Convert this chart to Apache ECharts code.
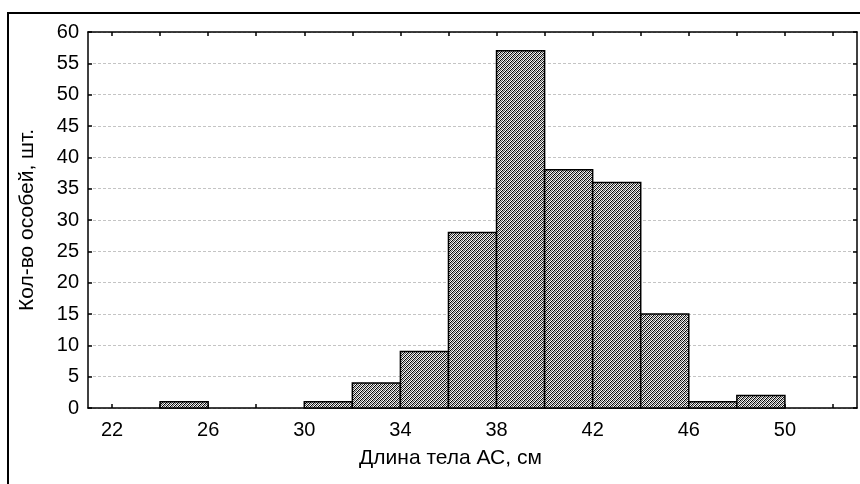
<!DOCTYPE html>
<html>
<head>
<meta charset="utf-8">
<script src="https://cdn.jsdelivr.net/npm/echarts@6/dist/echarts.min.js"></script>
<style>html,body{margin:0;padding:0;background:#fff}#c{width:860px;height:484px}</style>
</head>
<body>
<div id="c"></div>
<script>
// Data
var binStarts = [22, 24, 26, 28, 30, 32, 34, 36, 38, 40, 42, 44, 46, 48, 50];
var binWidth = 2;
var counts = [0, 1, 0, 0, 1, 4, 9, 28, 57, 38, 36, 15, 1, 2, 0];
var xTickValues = [22, 24, 26, 28, 30, 32, 34, 36, 38, 40, 42, 44, 46, 48, 50, 52];
var xLabelValues = [22, 26, 30, 34, 38, 42, 46, 50];
var xAxisName = 'Длина тела АС, см';
var yAxisName = 'Кол-во особей, шт.';

var FONT = '"Liberation Sans", Arial, sans-serif';

// hatch pattern
var tile = document.createElement('canvas');
tile.width = 4; tile.height = 4;
var tctx = tile.getContext('2d');
var shades = ['#000000', '#d0d0d0', '#555555', '#ffffff'];
for (var px = 0; px < 4; px++) {
  for (var py = 0; py < 4; py++) {
    tctx.fillStyle = shades[(px + py) % 4];
    tctx.fillRect(px, py, 1, 1);
  }
}

var data = binStarts.map(function (s, i) { return [s, s + binWidth, counts[i]]; });

var chart = echarts.init(document.getElementById('c'), null, {renderer: 'canvas'});
var tickStyle = {show: true, inside: true, length: 4, lineStyle: {color: '#000', width: 1.5}};
chart.setOption({
  animation: false,
  backgroundColor: '#fff',
  grid: {left: 88, top: 32, right: 3, bottom: 76},
  xAxis: [{
    type: 'value', min: 21, max: 53,
    name: xAxisName, nameLocation: 'middle', nameGap: 40,
    nameTextStyle: {fontFamily: FONT, fontSize: 21, color: '#000', padding: [0, 44, 0, 0]},
    axisLine: {show: true, onZero: false, lineStyle: {color: '#000', width: 1.5}},
    axisTick: Object.assign({customValues: xTickValues}, tickStyle),
    axisLabel: {customValues: xLabelValues, fontFamily: FONT, fontSize: 20, color: '#000', margin: 12},
    splitLine: {show: false}
  }, {
    type: 'value', min: 21, max: 53, position: 'top',
    axisLine: {show: true, onZero: false, lineStyle: {color: '#000', width: 1.5}},
    axisTick: Object.assign({customValues: xTickValues}, tickStyle),
    axisLabel: {show: false},
    splitLine: {show: false}
  }],
  yAxis: [{
    type: 'value', min: 0, max: 60, interval: 5,
    name: yAxisName, nameLocation: 'middle', nameGap: 50,
    nameTextStyle: {fontFamily: FONT, fontSize: 21, color: '#000'},
    axisLine: {show: true, onZero: false, lineStyle: {color: '#000', width: 1.5}},
    axisTick: tickStyle,
    axisLabel: {fontFamily: FONT, fontSize: 20, color: '#000', margin: 9},
    splitLine: {show: true, lineStyle: {color: '#c4c4c4', type: [3, 2], width: 1}}
  }, {
    type: 'value', min: 0, max: 60, interval: 5, position: 'right',
    axisLine: {show: true, onZero: false, lineStyle: {color: '#000', width: 1.5}},
    axisTick: tickStyle,
    axisLabel: {show: false},
    splitLine: {show: false}
  }],
  graphic: [{
    type: 'rect', silent: true, z: 100,
    shape: {x: 8, y: 13, width: 900, height: 520},
    style: {fill: null, stroke: '#000', lineWidth: 2}
  }],
  series: [{
    type: 'custom',
    xAxisIndex: 0, yAxisIndex: 0,
    data: data,
    encode: {x: [0, 1], y: 2},
    renderItem: function (params, api) {
      var v = api.value(2);
      if (!v) return null;
      var p0 = api.coord([api.value(0), v]);
      var p1 = api.coord([api.value(1), 0]);
      return {
        type: 'rect',
        shape: {x: p0[0], y: p0[1], width: p1[0] - p0[0], height: p1[1] - p0[1]},
        style: {fill: {image: tile, repeat: 'repeat'}, stroke: '#000', lineWidth: 1.5}
      };
    },
    z: 3
  }]
});
</script>
</body>
</html>
